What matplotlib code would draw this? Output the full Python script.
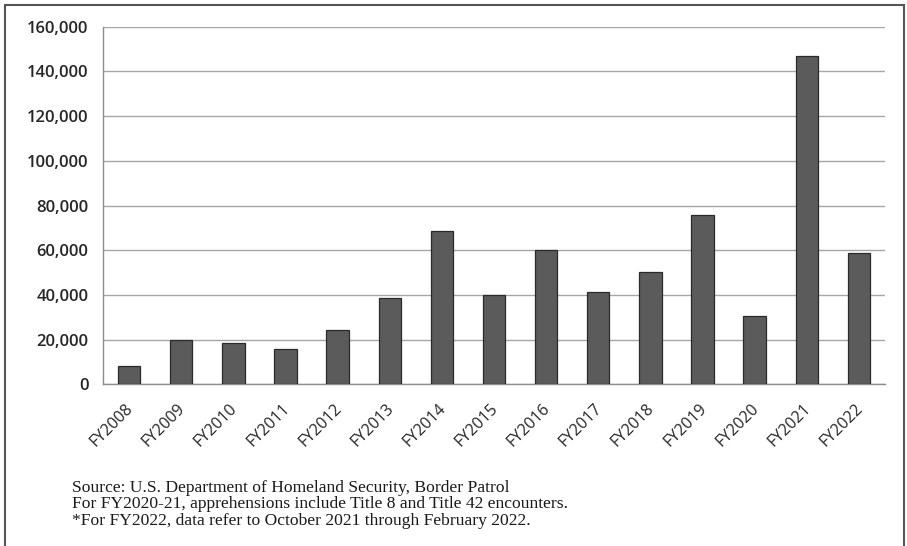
import numpy as np
import matplotlib.pyplot as plt
import matplotlib.transforms as mtransforms
from matplotlib.patches import Rectangle
from matplotlib.ticker import FuncFormatter

years = ["FY2008", "FY2009", "FY2010", "FY2011", "FY2012", "FY2013", "FY2014",
         "FY2015", "FY2016", "FY2017", "FY2018", "FY2019", "FY2020", "FY2021",
         "FY2022"]
apprehensions = [8200, 19700, 18300, 15800, 24400, 38600, 68400,
                 40000, 60000, 41100, 50200, 75700, 30400, 147100, 58600]
y_ticks = [0, 20000, 40000, 60000, 80000, 100000, 120000, 140000, 160000]
notes = [
    "Source: U.S. Department of Homeland Security, Border Patrol",
    "For FY2020-21, apprehensions include Title 8 and Title 42 encounters.",
    "*For FY2022, data refer to October 2021 through February 2022.",
]

W, H = 907, 546
fig = plt.figure(figsize=(W / 100, H / 100), dpi=100)
fig.patch.set_facecolor("white")

# plot area in pixel terms
left, right, top, bottom = 103, 885, 26.7, 384.3
ax = fig.add_axes([left / W, 1 - bottom / H, (right - left) / W, (bottom - top) / H])

x = np.arange(len(years))
ax.bar(x, apprehensions, width=0.43, color="#5b5b5b", edgecolor="#2a2a2a",
       linewidth=0.9, zorder=3)

ax.set_xlim(-0.5, len(years) - 0.5)
ax.set_ylim(0, 160000)
ax.set_yticks(y_ticks)
ax.yaxis.set_major_formatter(FuncFormatter(lambda v, p: f"{int(v):,}"))
ax.grid(axis="y", color="#a6a6a6", linewidth=1.0, zorder=0)

for side in ["top", "right"]:
    ax.spines[side].set_visible(False)
ax.spines["left"].set_color("#8c8c8c")
ax.spines["bottom"].set_color("#8c8c8c")
ax.spines["left"].set_linewidth(1.0)
ax.spines["bottom"].set_linewidth(1.0)

ax.tick_params(axis="both", length=0)
ax.tick_params(axis="y", pad=10.5)
for lab in ax.get_yticklabels():
    lab.set_fontfamily("Open Sans")
    lab.set_fontsize(12)
    lab.set_fontweight("semibold")
    lab.set_color("#262626")

ax.set_xticks(x)
ax.set_xticklabels(years, rotation=45, ha="right", rotation_mode="anchor",
                   fontfamily="Open Sans", fontsize=11.5, color="#262626")
ax.tick_params(axis="x", pad=6)
# nudge the slanted labels down-left a little
shift = mtransforms.ScaledTranslation(-4 / 100, -8 / 100, fig.dpi_scale_trans)
for lab in ax.get_xticklabels():
    lab.set_transform(lab.get_transform() + shift)

# footnotes under the chart
for i, line in enumerate(notes):
    fig.text(72 / W, 1 - (491.5 + i * 16.7) / H, line, fontfamily="Liberation Serif",
             fontsize=12.6, color="#1a1a1a", va="baseline", ha="left")

# outer frame
frame = Rectangle((4.5 / W, -0.02), (904 - 4.5) / W, 1 - 5 / H + 0.02,
                  transform=fig.transFigure, fill=False, edgecolor="#555555",
                  linewidth=1.5, clip_on=False)
fig.patches.append(frame)

fig.savefig("out.png", dpi=100)
